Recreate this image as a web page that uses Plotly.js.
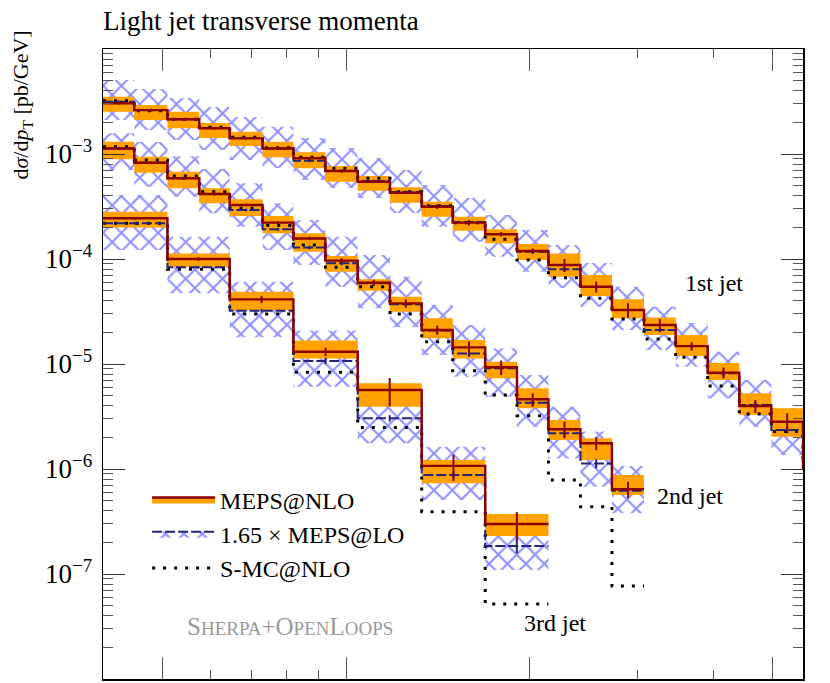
<!DOCTYPE html>
<html>
<head>
<meta charset="utf-8">
<script src="https://cdn.plot.ly/plotly-3.0.1.min.js"></script>
<style>
  html, body { margin: 0; padding: 0; background: #fff; }
  #chart { width: 830px; height: 683px; }
</style>
</head>
<body>
<div id="chart"></div>
<script>
// light jet pT spectra, three jets, log-log
// bin edges in GeV (1st jet has one extra bin just past the right edge)
const edges1 = [80, 90, 102, 115, 129, 146, 164, 185, 209, 236, 266, 299, 338, 381, 429, 484, 545, 615, 693, 782, 881, 994, 1120, 1260];
const edges2 = [80, 90, 102, 115, 129, 146, 164, 185, 209, 236, 266, 299, 338, 381, 429, 484, 545, 615];
const edges3 = [80, 102, 129, 164, 209, 266, 338, 429];

// 1st jet
const nlo1   = [3.04e-3, 2.62e-3, 2.14e-3, 1.76e-3, 1.41e-3, 1.13e-3, 9.10e-4, 6.89e-4, 5.45e-4, 4.28e-4, 3.15e-4, 2.22e-4, 1.72e-4, 1.19e-4, 8.77e-5, 5.45e-5, 3.27e-5, 2.35e-5, 1.48e-5, 8.26e-6, 3.98e-6, 2.82e-6, 1.0e-6];
const nlo1Hi = [3.51e-3, 2.93e-3, 2.53e-3, 1.97e-3, 1.63e-3, 1.31e-3, 1.04e-3, 7.69e-4, 6.17e-4, 4.82e-4, 3.51e-4, 2.53e-4, 1.92e-4, 1.39e-4, 1.13e-4, 7.04e-5, 4.13e-5, 2.78e-5, 1.89e-5, 1.02e-5, 5.26e-6, 3.78e-6, 1.3e-6];
const nlo1Lo = [2.53e-3, 2.11e-3, 1.76e-3, 1.42e-3, 1.19e-3, 9.31e-4, 7.31e-4, 5.45e-4, 4.47e-4, 3.44e-4, 2.53e-4, 1.86e-4, 1.41e-4, 9.78e-5, 6.78e-5, 4.44e-5, 2.72e-5, 1.89e-5, 1.19e-5, 7.04e-6, 3.27e-6, 2.03e-6, 0.8e-6];
const nlo1Err = [0.03, 0.03, 0.03, 0.03, 0.03, 0.03, 0.03, 0.03, 0.03, 0.03, 0.05, 0.06, 0.05, 0.06, 0.14, 0.12, 0.16, 0.14, 0.09, 0.12, 0.14, 0.2, 0];
const lo1    = [3.15e-3, 2.62e-3, 2.14e-3, 1.77e-3, 1.42e-3, 1.13e-3, 8.63e-4, 6.89e-4, 5.53e-4, 4.35e-4, 3.20e-4, 2.25e-4, 1.73e-4, 1.17e-4, 7.98e-5, 5.41e-5, 3.27e-5, 2.11e-5, 1.48e-5, 8.15e-6, 4.07e-6, 2.35e-6, 1.0e-6];
const lo1Hi  = [5.07e-3, 4.16e-3, 3.41e-3, 2.80e-3, 2.25e-3, 1.82e-3, 1.42e-3, 1.14e-3, 9.16e-4, 7.04e-4, 5.07e-4, 3.81e-4, 2.62e-4, 1.89e-4, 1.36e-4, 9.16e-5, 5.45e-5, 3.51e-5, 2.46e-5, 1.31e-5, 7.04e-6, 3.78e-6, 1.6e-6];
const lo1Lo  = [2.11e-3, 1.69e-3, 1.36e-3, 1.09e-3, 8.77e-4, 7.36e-4, 5.65e-4, 4.74e-4, 3.81e-4, 2.74e-4, 2.03e-4, 1.46e-4, 1.05e-4, 7.57e-5, 5.29e-5, 3.51e-5, 2.11e-5, 1.36e-5, 9.42e-6, 4.71e-6, 2.53e-6, 1.36e-6, 0.6e-6];
const lo1Err = [0.02, 0.02, 0.02, 0.02, 0.02, 0.02, 0.03, 0.03, 0.03, 0.03, 0.03, 0.04, 0.04, 0.04, 0.05, 0.05, 0.05, 0.05, 0.05, 0.06, 0.06, 0.07, 0];
const smc1   = [3.22e-3, 2.58e-3, 2.14e-3, 1.80e-3, 1.44e-3, 1.15e-3, 9.31e-4, 7.31e-4, 5.87e-4, 4.38e-4, 3.22e-4, 2.22e-4, 1.54e-4, 9.78e-5, 6.64e-5, 4.22e-5, 2.68e-5, 1.73e-5, 1.16e-5, 6.17e-6, 3.34e-6, 2.27e-6, 1.1e-6];

// 2nd jet
const nlo2   = [1.13e-3, 8.26e-4, 5.87e-4, 4.16e-4, 3.27e-4, 2.22e-4, 1.57e-4, 9.64e-5, 5.95e-5, 3.78e-5, 2.11e-5, 1.44e-5, 9.31e-6, 4.61e-6, 2.39e-6, 1.76e-6, 6.41e-7];
const nlo2Hi = [1.31e-3, 9.42e-4, 6.78e-4, 4.71e-4, 3.70e-4, 2.57e-4, 1.76e-4, 1.07e-4, 6.41e-5, 4.38e-5, 2.72e-5, 1.69e-5, 1.05e-5, 5.87e-6, 2.93e-6, 1.96e-6, 8.77e-7];
const nlo2Lo = [8.91e-4, 6.64e-4, 4.71e-4, 3.39e-4, 2.57e-4, 1.76e-4, 1.17e-4, 7.57e-5, 4.99e-5, 3.15e-5, 1.76e-5, 1.13e-5, 7.31e-6, 3.78e-6, 1.89e-6, 1.22e-6, 5.65e-7];
const nlo2Err = [0.03, 0.03, 0.03, 0.03, 0.03, 0.03, 0.04, 0.06, 0.07, 0.09, 0.1, 0.14, 0.16, 0.14, 0.18, 0.14, 0.18];
const lo2    = [1.13e-3, 8.26e-4, 5.87e-4, 4.16e-4, 2.93e-4, 1.92e-4, 1.29e-4, 9.10e-5, 5.87e-5, 3.70e-5, 2.08e-5, 1.26e-5, 9.10e-6, 4.28e-6, 2.19e-6, 1.13e-6, 6.21e-7];
const lo2Hi  = [1.58e-3, 1.30e-3, 9.50e-4, 7.20e-4, 5.26e-4, 3.39e-4, 2.35e-4, 1.63e-4, 1.09e-4, 6.78e-5, 3.65e-5, 2.35e-5, 1.41e-5, 7.86e-6, 3.92e-6, 2.27e-6, 1.07e-6];
const lo2Lo  = [7.04e-4, 4.88e-4, 3.92e-4, 2.72e-4, 2.03e-4, 1.22e-4, 8.77e-5, 5.45e-5, 3.39e-5, 2.24e-5, 1.22e-5, 7.57e-6, 4.88e-6, 2.53e-6, 1.26e-6, 6.78e-7, 3.78e-7];
const lo2Err = [0.02, 0.02, 0.03, 0.03, 0.03, 0.03, 0.04, 0.04, 0.05, 0.05, 0.06, 0.07, 0.07, 0.08, 0.08, 0.1, 0.1];
const smc2   = [1.17e-3, 8.77e-4, 6.17e-4, 4.38e-4, 3.04e-4, 2.08e-4, 1.36e-4, 8.34e-5, 5.45e-5, 2.99e-5, 1.63e-5, 8.63e-6, 5.07e-6, 3.22e-6, 7.86e-7, 4.38e-7, 7.69e-8];

// 3rd jet (double-width bins)
const nlo3   = [2.44e-4, 1.00e-4, 4.13e-5, 1.31e-5, 5.65e-6, 1.07e-6, 2.99e-7];
const nlo3Hi = [2.82e-4, 1.13e-4, 4.88e-5, 1.67e-5, 6.55e-6, 1.22e-6, 3.73e-7];
const nlo3Lo = [2.00e-4, 8.34e-5, 3.27e-5, 1.13e-5, 3.92e-6, 7.31e-7, 2.30e-7];
const nlo3Err = [0.03, 0.04, 0.08, 0.09, 0.3, 0.28, 0.3];
const lo3    = [2.19e-4, 8.34e-5, 3.22e-5, 1.07e-5, 3.04e-6, 8.77e-7, 1.85e-7];
const lo3Hi  = [4.07e-4, 1.63e-4, 6.08e-5, 2.08e-5, 5.07e-6, 1.63e-6, 3.41e-7];
const lo3Lo  = [1.22e-4, 4.71e-5, 1.80e-5, 6.08e-6, 1.76e-6, 5.07e-7, 1.09e-7];
const lo3Err = [0.03, 0.03, 0.04, 0.07, 0.07, 0.08, 0.15];
const smc3   = [2.19e-4, 7.98e-5, 2.99e-5, 8.34e-6, 2.49e-6, 3.92e-7, 5.18e-8];

// y tick labels
const yTicks = [1e-7, 1e-6, 1e-5, 1e-4, 1e-3];
const yTickText = ['10<sup>−7</sup>', '10<sup>−6</sup>', '10<sup>−5</sup>', '10<sup>−4</sup>', '10<sup>−3</sup>'];

const FONT = 'Liberation Serif, Times New Roman, serif';
const RED = '#8b0000';
const NAVY = '#23237a';
const ORANGE = '#ffa200';
const HATCH = '#9090ff';
const PATTERN = {shape: 'x', fgcolor: HATCH, bgcolor: 'rgba(255,255,255,0)', fillmode: 'replace', size: 13, solidity: 0.3};

// step helpers
function stepY(v) { return v.concat([v[v.length - 1]]); }
function centres(e) {
    const c = [];
    for (let i = 0; i < e.length - 1; i++) c.push(Math.sqrt(e[i] * e[i + 1]));
    return c;
}
function boxes(e, lo, hi) {
    const x = [], y = [];
    for (let i = 0; i < lo.length; i++) {
        x.push(e[i], e[i + 1], e[i + 1], e[i], e[i], null);
        y.push(lo[i], lo[i], hi[i], hi[i], lo[i], null);
    }
    return {x, y};
}

function hatchBand(e, lo, hi) {
    const b = boxes(e, lo, hi);
    return {
        x: b.x, y: b.y, type: 'scatter', mode: 'lines', fill: 'toself',
        line: {width: 0}, fillcolor: HATCH, fillpattern: PATTERN,
        showlegend: false, hoverinfo: 'skip'
    };
}
function orangeBand(e, lo, hi) {
    const b = boxes(e, lo, hi);
    return {
        x: b.x, y: b.y, type: 'scatter', mode: 'lines', fill: 'toself',
        line: {width: 0}, fillcolor: ORANGE, showlegend: false, hoverinfo: 'skip'
    };
}
function stepLine(e, v, color, width, dash) {
    return {
        x: e, y: stepY(v), type: 'scatter', mode: 'lines',
        line: {shape: 'hv', color: color, width: width, dash: dash},
        showlegend: false, hoverinfo: 'skip'
    };
}
function errBars(e, v, rel, color) {
    const n = v.length;
    return {
        x: centres(e).slice(0, n), y: v, type: 'scatter', mode: 'markers',
        marker: {size: 1, color: 'rgba(0,0,0,0)'},
        error_y: {type: 'data', symmetric: false,
                  array: v.map((d, i) => d * rel[i]), arrayminus: v.map((d, i) => d * rel[i]),
                  color: color, thickness: 2, width: 0},
        showlegend: false, hoverinfo: 'skip'
    };
}

const DOTS = '3px,8px';
const DASH = '10px,3px';

const traces = [
    hatchBand(edges1, lo1Lo, lo1Hi),
    hatchBand(edges2, lo2Lo, lo2Hi),
    hatchBand(edges3, lo3Lo, lo3Hi),
    orangeBand(edges1, nlo1Lo, nlo1Hi),
    orangeBand(edges2, nlo2Lo, nlo2Hi),
    orangeBand(edges3, nlo3Lo, nlo3Hi),
    stepLine(edges1, smc1, '#000', 3, DOTS),
    stepLine(edges2, smc2, '#000', 3, DOTS),
    stepLine(edges3, smc3, '#000', 3, DOTS),
    stepLine(edges1, lo1, NAVY, 2, DASH),
    stepLine(edges2, lo2, NAVY, 2, DASH),
    stepLine(edges3, lo3, NAVY, 2, DASH),
    errBars(edges1, lo1, lo1Err, NAVY),
    errBars(edges2, lo2, lo2Err, NAVY),
    errBars(edges3, lo3, lo3Err, NAVY),
    stepLine(edges1, nlo1, RED, 2.4),
    stepLine(edges2, nlo2, RED, 2.4),
    stepLine(edges3, nlo3, RED, 2.4),
    errBars(edges1, nlo1, nlo1Err, RED),
    errBars(edges2, nlo2, nlo2Err, RED),
    errBars(edges3, nlo3, nlo3Err, RED),
    // legend entries
    {x: [null], y: [null], type: 'scatter', mode: 'lines', name: 'MEPS@NLO', fill: 'toself',
     fillcolor: ORANGE, line: {color: RED, width: 2.4}},
    {x: [null], y: [null], type: 'scatter', mode: 'lines', name: '1.65 × MEPS@LO', fill: 'toself',
     fillcolor: HATCH, fillpattern: PATTERN, line: {color: NAVY, width: 2, dash: DASH}},
    {x: [null], y: [null], type: 'scatter', mode: 'lines', name: 'S-MC@NLO',
     line: {color: '#000', width: 3, dash: DOTS}}
];

const yMinor = [];
for (let e = -8; e <= -3; e++) {
    for (let m = 2; m <= 9; m++) yMinor.push(m * Math.pow(10, e));
}

const layout = {
    width: 830, height: 683,
    margin: {l: 103, r: 27, t: 49, b: 4},
    paper_bgcolor: '#fff', plot_bgcolor: '#fff',
    font: {family: FONT, size: 24, color: '#000'},
    title: {text: 'Light jet transverse momenta', x: 103 / 830, xanchor: 'left', xref: 'container',
            y: 1 - 21 / 683, yanchor: 'middle', yref: 'container',
            font: {family: FONT, size: 27, color: '#000'}},
    xaxis: {
        type: 'log', range: [Math.log10(80), Math.log10(1120)],
        showticklabels: false, showgrid: false, zeroline: false,
        showline: true, linecolor: '#000', linewidth: 1.5, mirror: 'ticks',
        ticks: 'inside', ticklen: 22, tickcolor: '#555', tickwidth: 1,
        tickmode: 'array', tickvals: [100, 200, 400, 1000],
        minor: {ticks: 'inside', ticklen: 9, tickcolor: '#555', tickwidth: 1,
                tickmode: 'array', tickvals: [120, 140, 160, 180, 600, 800]}
    },
    yaxis: {
        type: 'log', range: [-8, -2],
        showgrid: false, zeroline: false,
        showline: true, linecolor: '#000', linewidth: 1.5, mirror: 'ticks',
        ticks: 'inside', ticklen: 22, tickcolor: '#333', tickwidth: 1,
        tickmode: 'array', tickvals: yTicks, ticktext: yTickText,
        ticklabelstandoff: 4,
        tickfont: {family: FONT, size: 27, color: '#000'},
        minor: {ticks: 'inside', ticklen: 10, tickcolor: '#555', tickwidth: 1,
                tickmode: 'array', tickvals: yMinor}
    },
    showlegend: true,
    legend: {
        x: 0.063, y: 0.32, xanchor: 'left', yanchor: 'top',
        bgcolor: 'rgba(0,0,0,0)', borderwidth: 0,
        font: {family: FONT, size: 24, color: '#000'},
        itemwidth: 63, tracegroupgap: 0
    },
    annotations: [
        {text: 'd<i>σ</i>/d<i>p</i><sub>T</sub> [pb/GeV]', textangle: -90,
         xref: 'paper', yref: 'paper', x: -0.116, y: 1.033, xanchor: 'center', yanchor: 'top',
         showarrow: false, font: {family: FONT, size: 22, color: '#000'}},
        {text: '1st jet', xref: 'paper', yref: 'paper', x: 0.873, y: 0.629, xanchor: 'center', yanchor: 'middle',
         showarrow: false, font: {family: FONT, size: 24, color: '#000'}},
        {text: '2nd jet', xref: 'paper', yref: 'paper', x: 0.839, y: 0.290, xanchor: 'center', yanchor: 'middle',
         showarrow: false, font: {family: FONT, size: 24, color: '#000'}},
        {text: '3rd jet', xref: 'paper', yref: 'paper', x: 0.646, y: 0.089, xanchor: 'center', yanchor: 'middle',
         showarrow: false, font: {family: FONT, size: 24, color: '#000'}},
        {text: 'S<span style="font-size:19px">HERPA</span>+O<span style="font-size:19px">PEN</span>L<span style="font-size:19px">OOPS</span>',
         xref: 'paper', yref: 'paper', x: 0.267, y: 0.084, xanchor: 'center', yanchor: 'middle',
         showarrow: false, font: {family: FONT, size: 25, color: '#9a9a9a'}}
    ]
};

Plotly.newPlot('chart', traces, layout, {displayModeBar: false, staticPlot: true});
</script>
</body>
</html>
